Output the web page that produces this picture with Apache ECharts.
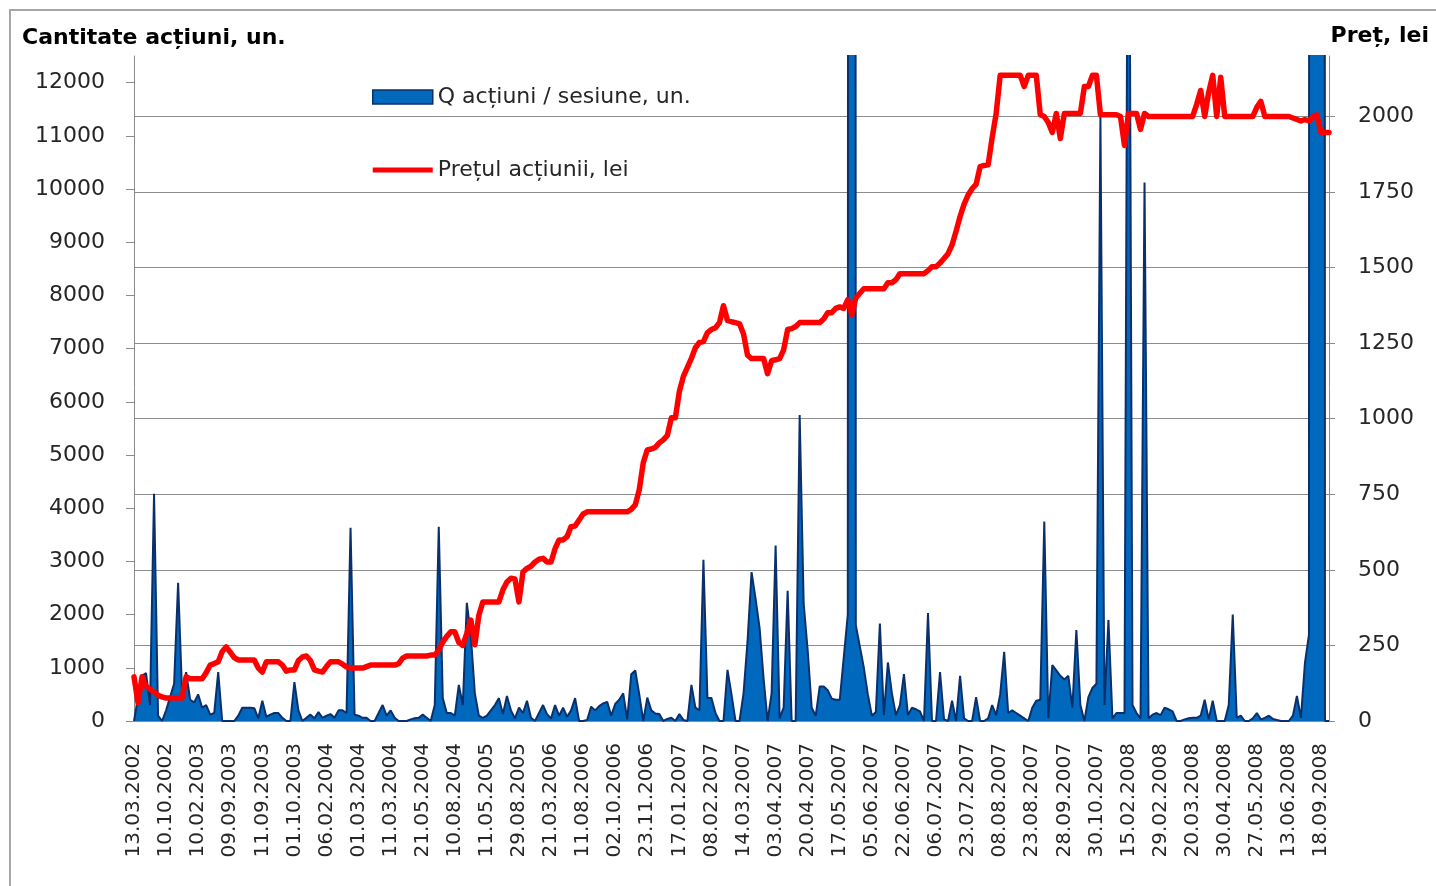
<!DOCTYPE html>
<html>
<head>
<meta charset="utf-8">
<title>Cantitate acțiuni și prețul acțiunii</title>
<script src="https://cdn.jsdelivr.net/npm/echarts@6/dist/echarts.min.js"></script>
<style>
    html, body { margin: 0; padding: 0; background: #fff; }
    #chart { width: 1436px; height: 886px; }
</style>
</head>
<body>
<div id="chart"></div>
<script>
/**
 * Volume of shares per trading session (area, left axis) and share price
 * (thick red line, right axis), 13.03.2002 - 18.09.2008.
 */
(function () {
    'use strict';

    var FONT = '"DejaVu Sans", Verdana, sans-serif';

    // Dates written under the axis: one every LABEL_STEP sessions.
    var SESSION_DATES = [
        '13.03.2002', '10.10.2002', '10.02.2003', '09.09.2003', '11.09.2003',
        '01.10.2003', '06.02.2004', '01.03.2004', '11.03.2004', '21.05.2004',
        '10.08.2004', '11.05.2005', '29.08.2005', '21.03.2006', '11.08.2006',
        '02.10.2006', '23.11.2006', '17.01.2007', '08.02.2007', '14.03.2007',
        '03.04.2007', '20.04.2007', '17.05.2007', '05.06.2007', '22.06.2007',
        '06.07.2007', '23.07.2007', '08.08.2007', '23.08.2007', '28.09.2007',
        '30.10.2007', '15.02.2008', '29.02.2008', '20.03.2008', '30.04.2008',
        '27.05.2008', '13.06.2008', '18.09.2008'
    ];
    var LABEL_STEP = 8;

    // Q shares per session, one row per labelled block of sessions.
    var VOLUME = [
        0, 450, 850, 900, 300, 4270, 100, 0,
        200, 450, 700, 2600, 500, 920, 400, 350,
        500, 250, 300, 120, 150, 920, 0, 0,
        0, 0, 100, 250, 250, 250, 240, 50,
        380, 80, 120, 150, 150, 60, 0, 0,
        730, 200, 0, 60, 120, 50, 170, 60,
        100, 130, 60, 200, 200, 150, 3630, 120,
        100, 60, 60, 0, 0, 150, 300, 100,
        200, 60, 0, 0, 0, 30, 50, 60,
        120, 60, 0, 300, 3650, 430, 150, 150,
        100, 680, 300, 2220, 1600, 520, 100, 60,
        100, 200, 300, 430, 130, 470, 200, 50,
        250, 150, 380, 60, 0, 150, 300, 130,
        50, 300, 100, 250, 80, 200, 430, 0,
        0, 20, 270, 200, 280, 330, 360, 100,
        320, 400, 520, 30, 880, 950, 500, 0,
        440, 200, 140, 130, 0, 40, 60, 0,
        130, 20, 0, 680, 250, 200, 3030, 430,
        430, 150, 0, 0, 960, 500, 0, 0,
        520, 1500, 2800, 2300, 1750, 800, 0, 520,
        3300, 50, 250, 2450, 0, 0, 5750, 2200,
        1330, 250, 100, 650, 650, 580, 420, 400,
        400, 1200, 2000, 200000, 1800, 1400, 1000, 500,
        100, 170, 1830, 110, 1100, 520, 110, 300,
        880, 110, 250, 220, 180, 0, 2030, 0,
        0, 920, 30, 0, 380, 0, 850, 50,
        0, 0, 450, 0, 0, 50, 300, 110,
        500, 1300, 150, 200, 150, 100, 50, 0,
        250, 380, 400, 3750, 50, 1050, 950, 850,
        780, 850, 250, 1710, 300, 0, 450, 620,
        700, 11360, 300, 1900, 50, 150, 150, 150,
        20000, 300, 150, 50, 10120, 50, 120, 150,
        110, 250, 220, 180, 0, 0, 30, 50,
        60, 60, 100, 400, 30, 380, 0, 0,
        0, 300, 2000, 60, 100, 0, 0, 50,
        150, 30, 60, 100, 40, 20, 0, 0,
        0, 100, 470, 60, 1090, 1620, 300000, 300000,
        300000, 0, 0
    ];

    // Share price, lei, same sessions.
    var PRICE = [
        146, 60, 146, 115, 105, 96, 85, 80,
        76, 76, 76, 76, 76, 146, 140, 140,
        140, 140, 160, 185, 190, 196, 230, 245,
        228, 210, 202, 202, 202, 202, 202, 175,
        162, 196, 196, 196, 196, 185, 165, 169,
        169, 200, 212, 215, 200, 169, 165, 162,
        180, 196, 196, 196, 188, 179, 175, 175,
        175, 175, 180, 185, 185, 185, 185, 185,
        185, 185, 190, 208, 215, 215, 215, 215,
        215, 215, 218, 218, 235, 261, 280, 295,
        295, 260, 250, 290, 334, 252, 350, 394,
        394, 394, 394, 394, 434, 460, 472, 470,
        394, 493, 505, 512, 526, 535, 538, 526,
        526, 570, 599, 599, 610, 643, 645, 665,
        685, 692, 692, 692, 692, 692, 692, 692,
        692, 692, 692, 692, 700, 715, 765, 855,
        897, 900, 905, 920, 930, 945, 1003, 1003,
        1090, 1140, 1170, 1200, 1235, 1252, 1255, 1285,
        1295, 1301, 1318, 1374, 1325, 1321, 1318, 1314,
        1280, 1210, 1199, 1199, 1199, 1199, 1149, 1192,
        1195, 1199, 1228, 1295, 1298, 1305, 1318, 1318,
        1318, 1318, 1318, 1318, 1330, 1351, 1351, 1365,
        1370, 1365, 1394, 1344, 1400, 1415, 1430, 1430,
        1430, 1430, 1430, 1430, 1450, 1450, 1460, 1480,
        1480, 1480, 1480, 1480, 1480, 1480, 1490, 1503,
        1503, 1515, 1530, 1546, 1575, 1620, 1669, 1710,
        1740, 1761, 1775, 1834, 1838, 1840, 1930, 2010,
        2136, 2136, 2136, 2136, 2136, 2136, 2099, 2136,
        2136, 2136, 2006, 2000, 1980, 1947, 2010, 1927,
        2010, 2010, 2010, 2010, 2010, 2099, 2099, 2136,
        2136, 2006, 2006, 2006, 2006, 2006, 2000, 1904,
        2010, 2010, 2010, 1957, 2010, 2000, 2000, 2000,
        2000, 2000, 2000, 2000, 2000, 2000, 2000, 2000,
        2000, 2040, 2086, 2000, 2080, 2136, 2000, 2130,
        2000, 2000, 2000, 2000, 2000, 2000, 2000, 2000,
        2030, 2050, 2000, 2000, 2000, 2000, 2000, 2000,
        2000, 1995, 1990, 1985, 1990, 1985, 2000, 2005,
        1947, 1947, 1947
    ];

    var NAME_Q = 'Q acțiuni / sesiune, un.';
    var NAME_P = 'Prețul acțiunii, lei';

    /** One category per session; only the first of each block carries a date. */
    var categories = VOLUME.map(function (v, i) {
        return i % LABEL_STEP === 0 ? SESSION_DATES[i / LABEL_STEP] : '';
    });

    /** Plain integers, no thousands separator. */
    function plain(v) { return String(v); }

    var AXIS_GREY = '#8c8c8c';
    var TEXT = '#262626';

    var chart = echarts.init(document.getElementById('chart'), null, { renderer: 'canvas' });

    chart.setOption({
        animation: false,
        backgroundColor: '#fff',
        textStyle: { fontFamily: FONT },
        graphic: [{
            type: 'rect', silent: true,
            shape: { x: 10, y: 10, width: 1440, height: 890 },
            style: { fill: 'none', stroke: '#a6a6a6', lineWidth: 2 }
        }],
        title: [
            { text: 'Cantitate acțiuni, un.', left: 17, top: 22,
              textStyle: { fontFamily: FONT, fontSize: 22, fontWeight: 'bold', color: '#000' } },
            { text: 'Preț, lei', right: 2, top: 20,
              textStyle: { fontFamily: FONT, fontSize: 22, fontWeight: 'bold', color: '#000' } }
        ],
        legend: {
            orient: 'vertical', left: 372, top: 86, padding: 0,
            itemWidth: 60, itemHeight: 14, itemGap: 51,
            textStyle: { fontFamily: FONT, fontSize: 22, color: TEXT },
            data: [
                { name: NAME_Q, icon: 'rect',
                  itemStyle: { color: '#0068BD', borderColor: '#0B2F6B', borderWidth: 1.5 } },
                { name: NAME_P, icon: 'path://M0 0H60V5H0Z',
                  itemStyle: { color: '#FF0000' } }
            ]
        },
        grid: { left: 134, right: 107, top: 56, bottom: 165 },
        xAxis: {
            type: 'category', data: categories, boundaryGap: false,
            axisLine: { lineStyle: { color: AXIS_GREY, width: 1.5 } },
            axisTick: { show: false },
            axisLabel: { interval: LABEL_STEP - 1, rotate: 90, margin: 22,
                         fontFamily: FONT, fontSize: 20, color: TEXT },
            splitLine: { show: false }
        },
        yAxis: [
            {
                type: 'value', position: 'left', min: 0, max: 12500, interval: 1000,
                axisLine: { show: true, lineStyle: { color: AXIS_GREY } },
                axisTick: { show: true, length: 8, lineStyle: { color: AXIS_GREY } },
                axisLabel: { margin: 29, fontFamily: FONT, fontSize: 22, color: TEXT,
                             showMaxLabel: false, formatter: plain },
                splitLine: { show: false }
            },
            {
                type: 'value', position: 'right', min: 0, max: 2200, interval: 250,
                axisLine: { show: true, lineStyle: { color: AXIS_GREY } },
                axisTick: { show: true, length: 6, lineStyle: { color: AXIS_GREY } },
                axisLabel: { margin: 29, fontFamily: FONT, fontSize: 22, color: TEXT,
                             showMaxLabel: false, formatter: plain },
                splitLine: { show: true, showMaxLine: false, lineStyle: { color: AXIS_GREY, width: 1.2 } }
            }
        ],
        series: [
            {
                name: NAME_Q, type: 'line', yAxisIndex: 0, data: VOLUME,
                symbol: 'none', clip: true, z: 2,
                itemStyle: { color: '#0068BD' },
                lineStyle: { color: '#0B2F6B', width: 2 },
                areaStyle: { color: '#0068BD', opacity: 1 }
            },
            {
                name: NAME_P, type: 'line', yAxisIndex: 1, data: PRICE,
                symbol: 'none', clip: true, z: 3,
                itemStyle: { color: '#FF0000' },
                lineStyle: { color: '#FF0000', width: 5.5, join: 'round', cap: 'round' }
            }
        ]
    });
})();
</script>
</body>
</html>
